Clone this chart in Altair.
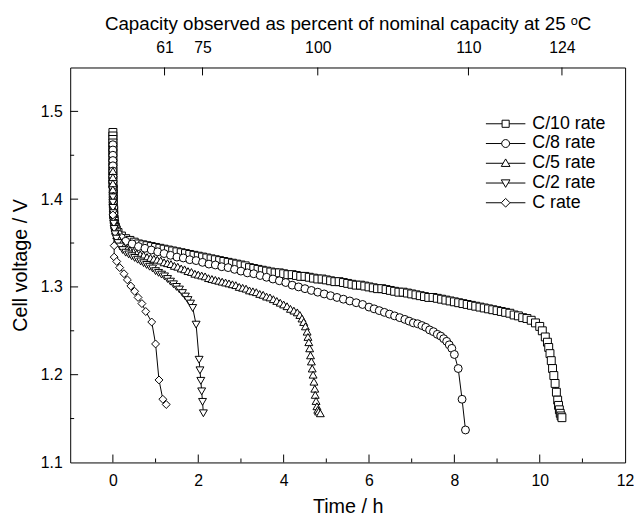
import json
import altair as alt
import pandas as pd

series_names = ["C/10 rate", "C/8 rate", "C/5 rate", "C/2 rate", "C rate"]

# (time h, voltage V)
c10 = [(0.00,1.476),(0.00,1.472),(0.00,1.468),(0.00,1.464),(0.00,1.460),(0.00,1.456),(0.00,1.452),
       (0.00,1.447),(0.00,1.442),(0.00,1.437),(0.00,1.432),(0.00,1.427),(0.00,1.422),(0.00,1.417),
       (0.01,1.412),(0.01,1.406),(0.01,1.400),(0.01,1.394),(0.02,1.388),(0.02,1.382),(0.03,1.377),
       (0.04,1.372),(0.06,1.368),(0.08,1.365),(0.12,1.362),(0.2,1.358),(0.3,1.355),(0.4,1.353),
       (0.5,1.351),(0.6,1.349),(0.7,1.348),(0.8,1.347),(0.9,1.346),(1.0,1.345),(1.1,1.344),
       (1.2,1.343),(1.3,1.342),(1.4,1.341),(1.5,1.340),(1.6,1.339),(1.7,1.338),(1.8,1.337),
       (1.9,1.336),(2.0,1.335),(2.1,1.334),(2.2,1.333),(2.3,1.332),(2.4,1.331),(2.5,1.330),
       (2.6,1.329),(2.7,1.328),(2.8,1.327),(2.9,1.326),(3.0,1.325),(3.1,1.324),(3.2,1.322),
       (3.3,1.321),(3.4,1.320),(3.5,1.319),(3.6,1.318),(3.7,1.317),(3.8,1.316),(3.9,1.316),
       (4.0,1.315),(4.1,1.314),(4.2,1.314),(4.3,1.313),(4.4,1.312),(4.5,1.312),(4.6,1.311),
       (4.7,1.310),(4.8,1.309),(4.9,1.309),(5.0,1.308),(5.1,1.307),(5.2,1.306),(5.3,1.306),
       (5.4,1.305),(5.5,1.304),(5.6,1.303),(5.7,1.302),(5.8,1.302),(5.9,1.301),(6.0,1.300),
       (6.1,1.299),(6.2,1.298),(6.3,1.298),(6.4,1.297),(6.5,1.296),(6.6,1.295),(6.7,1.294),
       (6.8,1.294),(6.9,1.293),(7.0,1.292),(7.1,1.291),(7.2,1.290),(7.3,1.289),(7.4,1.288),
       (7.5,1.288),(7.6,1.287),(7.7,1.286),(7.8,1.285),(7.9,1.284),(8.0,1.283),(8.1,1.282),
       (8.2,1.281),(8.3,1.280),(8.4,1.279),(8.5,1.278),(8.6,1.277),(8.7,1.276),(8.8,1.275),
       (8.9,1.274),(9.0,1.273),(9.1,1.272),(9.2,1.271),(9.3,1.270),(9.4,1.268),(9.5,1.267),
       (9.6,1.265),(9.7,1.264),(9.8,1.262),(9.9,1.259),(10.0,1.255),(10.06,1.250),(10.13,1.243),
       (10.18,1.237),(10.21,1.231),(10.24,1.224),(10.27,1.216),(10.30,1.207),(10.33,1.199),
       (10.36,1.190),(10.39,1.180),(10.42,1.171),(10.44,1.165),(10.46,1.160),(10.48,1.156),
       (10.50,1.153),(10.52,1.151)]

c8 = [(0.00,1.462),(0.00,1.456),(0.00,1.450),(0.00,1.444),(0.00,1.438),(0.00,1.432),(0.00,1.426),
      (0.00,1.420),(0.00,1.414),(0.01,1.408),(0.01,1.402),(0.01,1.396),(0.02,1.390),(0.02,1.384),
      (0.03,1.378),(0.04,1.373),(0.06,1.368),(0.09,1.364),(0.13,1.360),(0.2,1.356),(0.3,1.352),
      (0.45,1.349),(0.6,1.346),(0.75,1.344),(0.9,1.342),(1.05,1.340),(1.2,1.338),(1.35,1.336),
      (1.5,1.334),(1.65,1.333),(1.8,1.331),(1.95,1.330),(2.1,1.328),(2.25,1.326),(2.4,1.325),
      (2.55,1.323),(2.7,1.322),(2.85,1.320),(3.0,1.318),(3.15,1.316),(3.3,1.315),(3.45,1.313),
      (3.6,1.311),(3.75,1.309),(3.9,1.307),(4.05,1.305),(4.2,1.302),(4.35,1.300),(4.5,1.298),
      (4.65,1.296),(4.8,1.294),(4.95,1.292),(5.1,1.290),(5.25,1.288),(5.4,1.286),(5.55,1.284),
      (5.7,1.282),(5.85,1.280),(6.0,1.277),(6.12,1.275),(6.24,1.273),(6.36,1.271),(6.48,1.269),
      (6.6,1.267),(6.72,1.265),(6.84,1.263),(6.94,1.261),(7.04,1.259),(7.14,1.258),(7.24,1.256),
      (7.33,1.254),(7.42,1.251),(7.51,1.249),(7.6,1.246),(7.68,1.244),(7.75,1.241),(7.82,1.238),
      (7.88,1.234),(7.94,1.230),(8.00,1.223),(8.09,1.207),(8.18,1.172),(8.26,1.137)]

c5 = [(0.00,1.432),(0.00,1.425),(0.00,1.418),(0.00,1.411),(0.01,1.404),(0.01,1.397),(0.01,1.390),
      (0.02,1.383),(0.03,1.376),(0.04,1.370),(0.06,1.364),(0.09,1.359),(0.13,1.355),(0.18,1.351),
      (0.24,1.347),(0.32,1.344),(0.4,1.342),(0.48,1.340),(0.56,1.338),(0.64,1.337),(0.72,1.336),
      (0.8,1.334),(0.88,1.333),(0.96,1.332),(1.04,1.331),(1.12,1.330),(1.2,1.328),(1.28,1.327),
      (1.36,1.326),(1.44,1.324),(1.52,1.323),(1.6,1.321),(1.68,1.320),(1.76,1.318),(1.84,1.317),
      (1.92,1.315),(2.0,1.314),(2.08,1.313),(2.16,1.312),(2.24,1.310),(2.32,1.309),(2.4,1.308),
      (2.48,1.307),(2.56,1.306),(2.64,1.305),(2.72,1.304),(2.8,1.303),(2.88,1.302),(2.96,1.300),
      (3.04,1.299),(3.12,1.298),(3.2,1.296),(3.28,1.295),(3.36,1.294),(3.44,1.292),(3.52,1.291),
      (3.6,1.289),(3.68,1.288),(3.76,1.286),(3.84,1.284),(3.92,1.282),(4.0,1.280),(4.08,1.278),
      (4.16,1.275),(4.24,1.273),(4.32,1.271),(4.38,1.268),(4.43,1.264),(4.47,1.260),(4.51,1.255),
      (4.55,1.249),(4.57,1.243),(4.59,1.237),(4.61,1.230),(4.63,1.222),(4.65,1.215),(4.67,1.207),
      (4.69,1.200),(4.71,1.192),(4.73,1.184),(4.74,1.177),(4.76,1.170),(4.78,1.164),(4.80,1.160),
      (4.82,1.158),(4.86,1.156)]

c2 = [(0.00,1.402),(0.00,1.396),(0.00,1.390),(0.01,1.384),(0.01,1.378),(0.02,1.372),(0.03,1.366),
      (0.05,1.360),(0.08,1.355),(0.12,1.350),(0.17,1.346),(0.23,1.342),(0.3,1.339),(0.37,1.337),
      (0.44,1.335),(0.51,1.333),(0.58,1.331),(0.65,1.329),(0.72,1.327),(0.79,1.325),(0.86,1.323),
      (0.93,1.321),(1.0,1.318),(1.07,1.316),(1.14,1.314),(1.21,1.312),(1.28,1.309),(1.35,1.306),
      (1.42,1.303),(1.49,1.300),(1.56,1.297),(1.63,1.293),(1.7,1.289),(1.76,1.285),(1.82,1.281),
      (1.87,1.276),(1.95,1.257),(2.02,1.217),(2.04,1.205),(2.06,1.193),(2.08,1.181),(2.10,1.169),
      (2.12,1.156)]

c1 = [(0.00,1.382),(0.03,1.347),(0.03,1.334),(0.09,1.329),(0.16,1.322),(0.26,1.315),(0.34,1.308),
      (0.42,1.301),(0.51,1.295),(0.59,1.288),(0.68,1.281),(0.77,1.272),(0.91,1.260),(1.0,1.235),
      (1.08,1.194),(1.17,1.172),(1.25,1.166)]

# top axis: capacity (% of nominal) at the end time of each discharge
cap_times = [1.21, 2.10, 4.80, 8.33, 10.52]
cap_labels = ["61", "75", "100", "110", "124"]

x_labels = [0, 2, 4, 6, 8, 10, 12]
x_major_ticks = [0, 2, 4, 6, 8, 10]
x_minor_ticks = [1, 3, 5, 7, 9, 11]
y_labels = [1.1, 1.2, 1.3, 1.4, 1.5]
y_major_ticks = [1.2, 1.3, 1.4, 1.5]
y_minor_ticks = [1.15, 1.25, 1.35, 1.45]

rows = []
for name, pts in zip(series_names, [c10, c8, c5, c2, c1]):
    for i, (t, v) in enumerate(pts):
        rows.append({"series": name, "t": t, "v": v, "idx": i})
df = pd.DataFrame(rows)

FONT = "Liberation Sans"
W, H = 562, 400

xscale = alt.Scale(domain=[-1, 12], nice=False, zero=False)
yscale = alt.Scale(domain=[1.1, 1.55], nice=False, zero=False)

x_axis = alt.Axis(values=x_labels, title="Time / h", domain=False, ticks=False, tickSize=0,
                  grid=False, labelFontSize=16, labelPadding=10, titleFontSize=20, titlePadding=9,
                  labelColor="black", titleColor="black", titleFontWeight="normal",
                  labelFlush=False, labelOverlap=False)
y_axis = alt.Axis(values=y_labels, format=".1f", title="Cell voltage / V", domain=False,
                  ticks=False, tickSize=0, grid=False, labelFontSize=16, labelPadding=8,
                  titleFontSize=20, titlePadding=10, labelColor="black", titleColor="black",
                  titleFontWeight="normal", labelFlush=False, labelOverlap=False)

X = alt.X("t:Q", scale=xscale, axis=x_axis)
Y = alt.Y("v:Q", scale=yscale, axis=y_axis)

lines = alt.Chart(df).mark_line(color="black", strokeWidth=1).encode(
    x=X, y=Y, detail="series:N", order="idx:Q")

points = alt.Chart(df).mark_point(filled=True, fill="white", stroke="black",
                                  strokeWidth=1, opacity=1).encode(
    x=X, y=Y,
    shape=alt.Shape("series:N", scale=alt.Scale(domain=series_names,
                    range=["square", "circle", "triangle-up", "triangle-down", "diamond"]),
                    legend=None),
    size=alt.Size("series:N", scale=alt.Scale(domain=series_names, range=[64, 64, 90, 90, 90]),
                  legend=None),
)

legend_paths = [
    "M-5,0H-0.9M0.9,0H5M-0.9,-0.9H0.9V0.9H-0.9Z",
    "M-5,0H-1M1,0H5M-1,0A1,1,0,1,1,1,0A1,1,0,1,1,-1,0Z",
    "M-5,0H-0.65M0.65,0H5M0,-1.1L1.1,0.8L-1.1,0.8Z",
    "M-5,0H-0.65M0.65,0H5M0,1.1L1.1,-0.8L-1.1,-0.8Z",
    "M-5,0H-1.1M1.1,0H5M0,-1.1L1.1,0L0,1.1L-1.1,0Z",
]

legend_layer = alt.Chart(df).transform_filter("false").mark_point(
    filled=False, color="black", strokeWidth=1, opacity=1).encode(
    x=X, y=Y,
    shape=alt.Shape("series:N", scale=alt.Scale(domain=series_names, range=legend_paths),
                    legend=alt.Legend(title=None, orient="none", legendX=432, legendY=48,
                                      symbolSize=64, symbolStrokeColor="black",
                                      symbolStrokeWidth=1, symbolOpacity=1,
                                      labelFontSize=18, labelOffset=18,
                                      labelColor="black", rowPadding=2, labelLimit=200)),
)

rule_style = dict(color="black", strokeWidth=1)
bx_major = alt.Chart(pd.DataFrame({"t": x_major_ticks})).mark_rule(**rule_style).encode(
    x=X, y=alt.value(H), y2=alt.value(H - 8))
bx_minor = alt.Chart(pd.DataFrame({"t": x_minor_ticks})).mark_rule(**rule_style).encode(
    x=X, y=alt.value(H), y2=alt.value(H - 4))
ly_major = alt.Chart(pd.DataFrame({"v": y_major_ticks})).mark_rule(**rule_style).encode(
    y=Y, x=alt.value(0), x2=alt.value(8))
ly_minor = alt.Chart(pd.DataFrame({"v": y_minor_ticks})).mark_rule(**rule_style).encode(
    y=Y, x=alt.value(0), x2=alt.value(4))

main = alt.layer(lines, points, legend_layer, bx_major, bx_minor, ly_major, ly_minor).resolve_scale(
    shape="independent", size="independent")

label_expr = "{}[indexof({}, datum.value)]".format(json.dumps(cap_labels), json.dumps(cap_times))
top_axis = alt.Axis(orient="top", values=cap_times, labelExpr=label_expr,
                    title="Capacity observed as percent of nominal capacity at 25 \u1d52C",
                    domain=False, ticks=False, tickSize=0, grid=False, labelFontSize=16,
                    labelPadding=12, titleFontSize=19, titlePadding=6, labelColor="black",
                    titleColor="black", titleFontWeight="normal", labelFlush=False,
                    labelOverlap=False)

top = alt.Chart(pd.DataFrame({"t": cap_times})).mark_rule(**rule_style).encode(
    x=alt.X("t:Q", scale=xscale, axis=top_axis), y=alt.value(0), y2=alt.value(8))

chart = alt.layer(main, top).resolve_scale(x="independent").properties(
    width=W, height=H,
    padding={"left": 63, "top": 57, "right": 9, "bottom": 52},
    autosize=alt.AutoSizeParams(type="none"),
).configure(font=FONT).configure_view(stroke="black", strokeWidth=1)

chart.save("out.html", embed_options={"renderer": "svg", "actions": False})
